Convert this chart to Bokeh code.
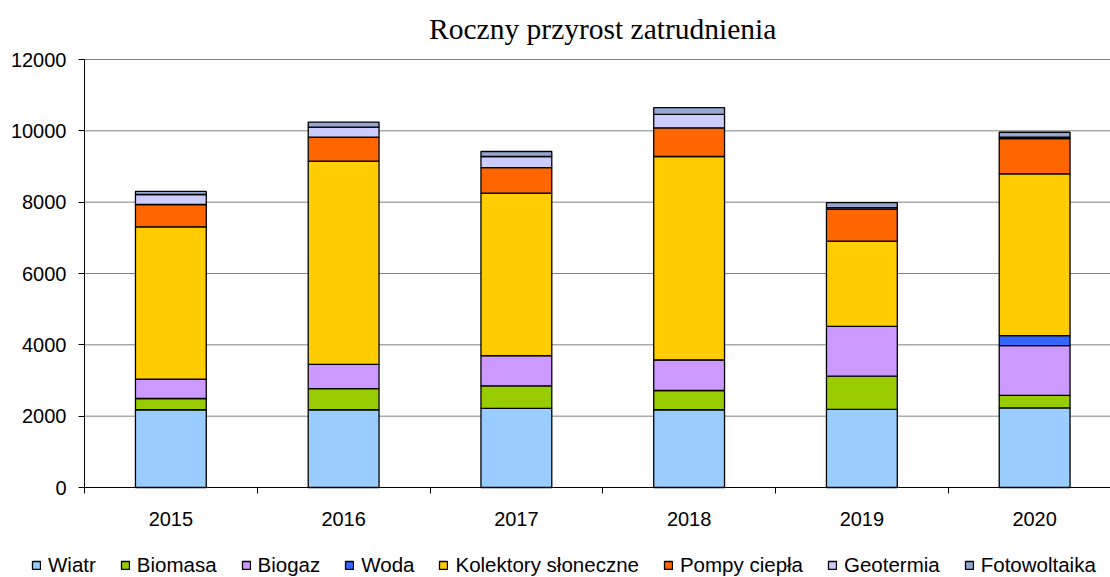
from bokeh.plotting import figure
from bokeh.models import (Range1d, FixedTicker, Legend, LegendItem, ColumnDataSource,
                          LinearAxis, Label)
from bokeh.embed import file_html
from bokeh.resources import INLINE

title_text = "Roczny przyrost zatrudnienia"
years = ["2015", "2016", "2017", "2018", "2019", "2020"]
wiatr = [2180, 2180, 2220, 2180, 2190, 2230]
biomasa = [315, 590, 630, 540, 930, 355]
biogaz = [540, 680, 850, 860, 1395, 1395]
woda = [0, 0, 0, 0, 0, 280]
kolektory = [4275, 5700, 4550, 5700, 2390, 4535]
pompy = [625, 675, 720, 805, 900, 990]
geotermia = [280, 280, 310, 375, 40, 40]
fotowoltaika = [85, 140, 140, 190, 140, 135]

series_names = ["Wiatr", "Biomasa", "Biogaz", "Woda", "Kolektory słoneczne",
                "Pompy ciepła", "Geotermia", "Fotowoltaika"]
series_values = [wiatr, biomasa, biogaz, woda, kolektory, pompy, geotermia, fotowoltaika]
colors = ["#99CCFF", "#99CC00", "#CC99FF", "#3366FF", "#FFCC00",
          "#FF6600", "#CCCCFF", "#94A7D3"]

y_ticks = [0, 2000, 4000, 6000, 8000, 10000, 12000]
y_max = 12000

n = len(years)
xpos = [i + 0.5 for i in range(n)]
keys = ["s%d" % i for i in range(len(series_names))]
data = {"x": xpos}
for k, v in zip(keys, series_values):
    data[k] = v
source = ColumnDataSource(data)

# canvas geometry (pixels)
W, H = 1110, 577
ax_left, ax_top, ax_bottom = 84, 59, 487
px_per_cat = 172.75
k = y_max / (ax_bottom - ax_top)          # data units per pixel (y)
x_start = -ax_left / px_per_cat
x_end = (W - ax_left) / px_per_cat
y_start = -(H - ax_bottom) * k
y_end = y_max + ax_top * k

p = figure(width=W, height=H, output_backend="svg", toolbar_location=None,
           x_range=Range1d(x_start, x_end), y_range=Range1d(y_start, y_end),
           x_axis_location=None, y_axis_location=None,
           min_border_left=0, min_border_right=0, min_border_top=0, min_border_bottom=0)
p.outline_line_color = None
p.xgrid.visible = False
p.ygrid.visible = False

# horizontal grid lines (from the y tick list), starting at the y axis
grid_y = y_ticks[1:]
p.segment(x0=[0] * len(grid_y), x1=[x_end] * len(grid_y), y0=grid_y, y1=grid_y,
          line_color="#808080", line_width=1)

renderers = p.vbar_stack(keys, x="x", width=0.41, source=source, color=colors,
                         line_color="black", line_width=1.3)

# x axis at y = 0
xaxis = LinearAxis(fixed_location=0, bounds=(0, x_end))
xaxis.ticker = FixedTicker(ticks=xpos, minor_ticks=list(range(n + 1)))
xaxis.major_label_overrides = {x: y for x, y in zip(xpos, years)}
xaxis.major_tick_line_color = None
xaxis.major_tick_out = 0
xaxis.major_tick_in = 0
xaxis.minor_tick_out = 6
xaxis.minor_tick_in = 0
xaxis.minor_tick_line_color = "black"
xaxis.major_label_standoff = 18
p.add_layout(xaxis, "below")

# y axis at x = 0
yaxis = LinearAxis(fixed_location=0, bounds=(0, y_max))
yaxis.ticker = FixedTicker(ticks=y_ticks)
yaxis.major_tick_out = 6
yaxis.major_tick_in = 0
yaxis.minor_tick_line_color = None
yaxis.major_tick_line_color = "black"
yaxis.major_label_standoff = 12
p.add_layout(yaxis, "left")

for ax in (xaxis, yaxis):
    ax.axis_line_color = "black"
    ax.major_label_text_font = "Liberation Sans"
    ax.major_label_text_font_size = "20px"
    ax.major_label_text_color = "black"

# title
p.add_layout(Label(x=n / 2, y=y_max + (ax_top - 28) * k, text=title_text,
                   text_align="center", text_baseline="middle",
                   text_font="Liberation Serif", text_font_size="29.5px",
                   text_color="black"))

items = [LegendItem(label=name, renderers=[r]) for name, r in zip(series_names, renderers)]
legend = Legend(items=items, orientation="horizontal", location=(31, 0),
                glyph_width=10, glyph_height=10, label_standoff=7, spacing=24,
                padding=1, margin=0, border_line_color=None, background_fill_alpha=0,
                label_text_font="Liberation Sans", label_text_font_size="20.5px",
                label_text_color="black")
p.add_layout(legend, "center")

open("out.html", "w").write(file_html(p, INLINE))
